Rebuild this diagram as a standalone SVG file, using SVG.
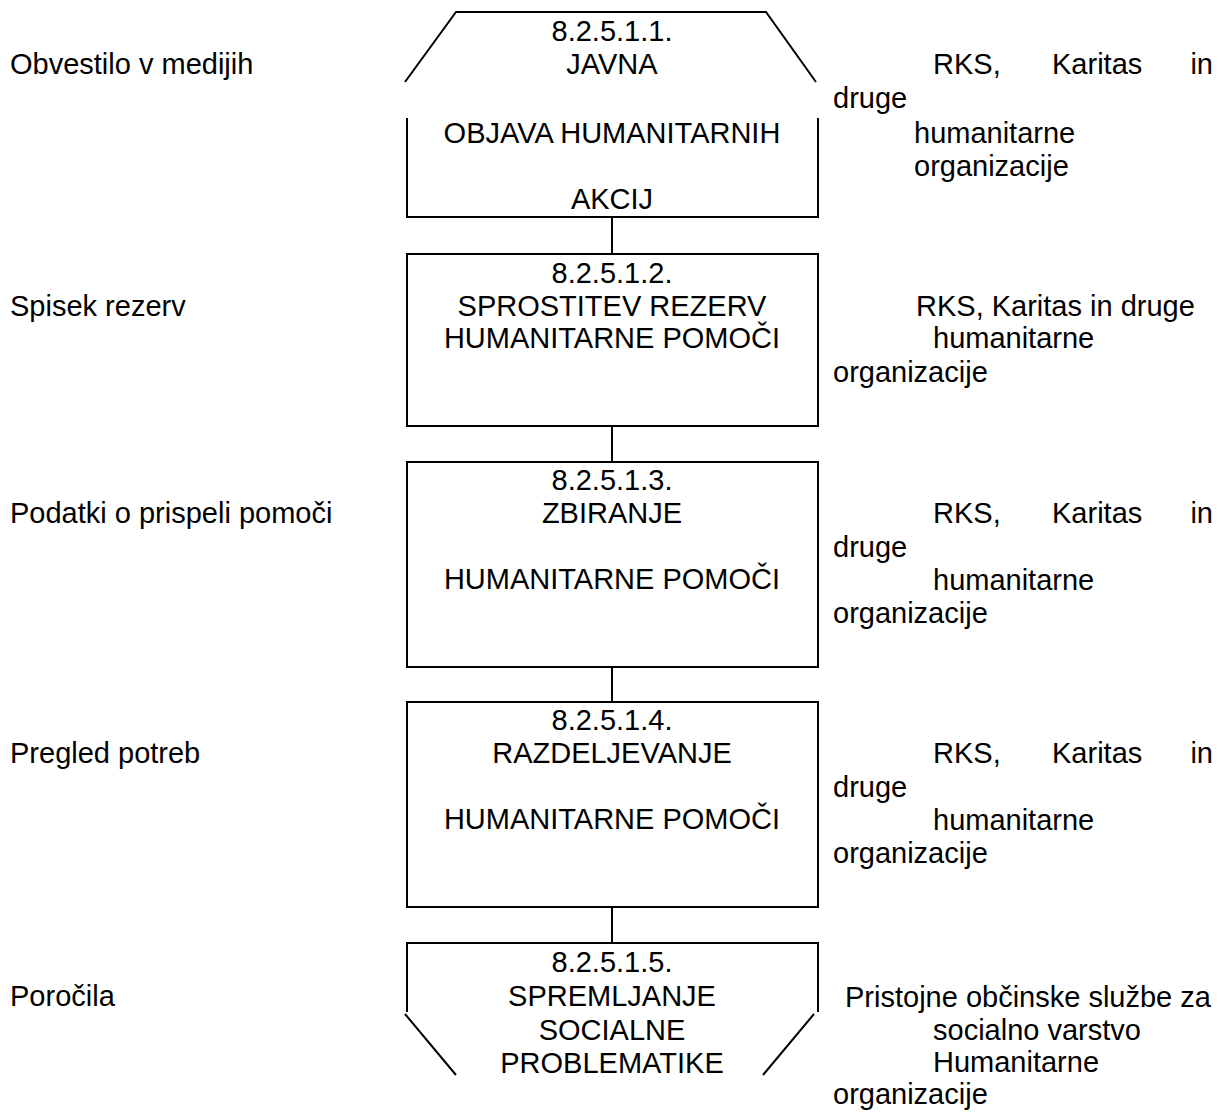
<svg xmlns="http://www.w3.org/2000/svg" width="1220" height="1114" viewBox="0 0 1220 1114">
<style>
text{font-family:"Liberation Sans",Arial,sans-serif;font-size:29px;fill:#000}
.c{text-anchor:middle}
.e{text-anchor:end}
.s{fill:none;stroke:#000;stroke-width:2}
</style>
<rect width="1220" height="1114" fill="#fff"/>
<g id="connectors" class="s">
<line x1="612" y1="217" x2="612" y2="254"/>
<line x1="612" y1="426" x2="612" y2="462"/>
<line x1="612" y1="667" x2="612" y2="702"/>
<line x1="612" y1="907" x2="612" y2="943"/>
</g>
<g id="node1">
<path class="s" d="M405,82 L456,12 H766 L816,82"/>
<path class="s" d="M407,118 V217 H818 V118"/>
<text class="c" x="612" y="41">8.2.5.1.1.</text>
<text class="c" x="612" y="74">JAVNA</text>
<text class="c" x="612" y="143">OBJAVA HUMANITARNIH</text>
<text class="c" x="612" y="209">AKCIJ</text>
</g>
<g id="node2">
<rect class="s" x="407" y="254" width="411" height="172"/>
<text class="c" x="612" y="283">8.2.5.1.2.</text>
<text class="c" x="612" y="316">SPROSTITEV REZERV</text>
<text class="c" x="612" y="348">HUMANITARNE POMOČI</text>
</g>
<g id="node3">
<rect class="s" x="407" y="462" width="411" height="205"/>
<text class="c" x="612" y="490">8.2.5.1.3.</text>
<text class="c" x="612" y="523">ZBIRANJE</text>
<text class="c" x="612" y="589">HUMANITARNE POMOČI</text>
</g>
<g id="node4">
<rect class="s" x="407" y="702" width="411" height="205"/>
<text class="c" x="612" y="730">8.2.5.1.4.</text>
<text class="c" x="612" y="763">RAZDELJEVANJE</text>
<text class="c" x="612" y="829">HUMANITARNE POMOČI</text>
</g>
<g id="node5">
<path class="s" d="M407,1012 V943 H818 V1012"/>
<path class="s" d="M405,1014 L456,1075"/>
<path class="s" d="M814,1014 L763,1075"/>
<text class="c" x="612" y="972">8.2.5.1.5.</text>
<text class="c" x="612" y="1006">SPREMLJANJE</text>
<text class="c" x="612" y="1040">SOCIALNE</text>
<text class="c" x="612" y="1073">PROBLEMATIKE</text>
</g>
<g id="inputs">
<text x="10" y="74">Obvestilo v medijih</text>
<text x="10" y="316">Spisek rezerv</text>
<text x="10" y="523">Podatki o prispeli pomoči</text>
<text x="10" y="763">Pregled potreb</text>
<text x="10" y="1006">Poročila</text>
</g>
<g id="actors">
<text x="933" y="74">RKS,</text><text x="1052" y="74">Karitas</text><text class="e" x="1213" y="74">in</text>
<text x="833" y="108">druge</text>
<text x="914" y="143">humanitarne</text>
<text x="914" y="176">organizacije</text>

<text x="916" y="316">RKS, Karitas in druge</text>
<text x="933" y="348">humanitarne</text>
<text x="833" y="382">organizacije</text>

<text x="933" y="523">RKS,</text><text x="1052" y="523">Karitas</text><text class="e" x="1213" y="523">in</text>
<text x="833" y="557">druge</text>
<text x="933" y="590">humanitarne</text>
<text x="833" y="623">organizacije</text>

<text x="933" y="763">RKS,</text><text x="1052" y="763">Karitas</text><text class="e" x="1213" y="763">in</text>
<text x="833" y="797">druge</text>
<text x="933" y="830">humanitarne</text>
<text x="833" y="863">organizacije</text>

<text x="845" y="1007">Pristojne občinske službe za</text>
<text x="933" y="1040">socialno varstvo</text>
<text x="933" y="1072">Humanitarne</text>
<text x="833" y="1104">organizacije</text>
</g>
</svg>
